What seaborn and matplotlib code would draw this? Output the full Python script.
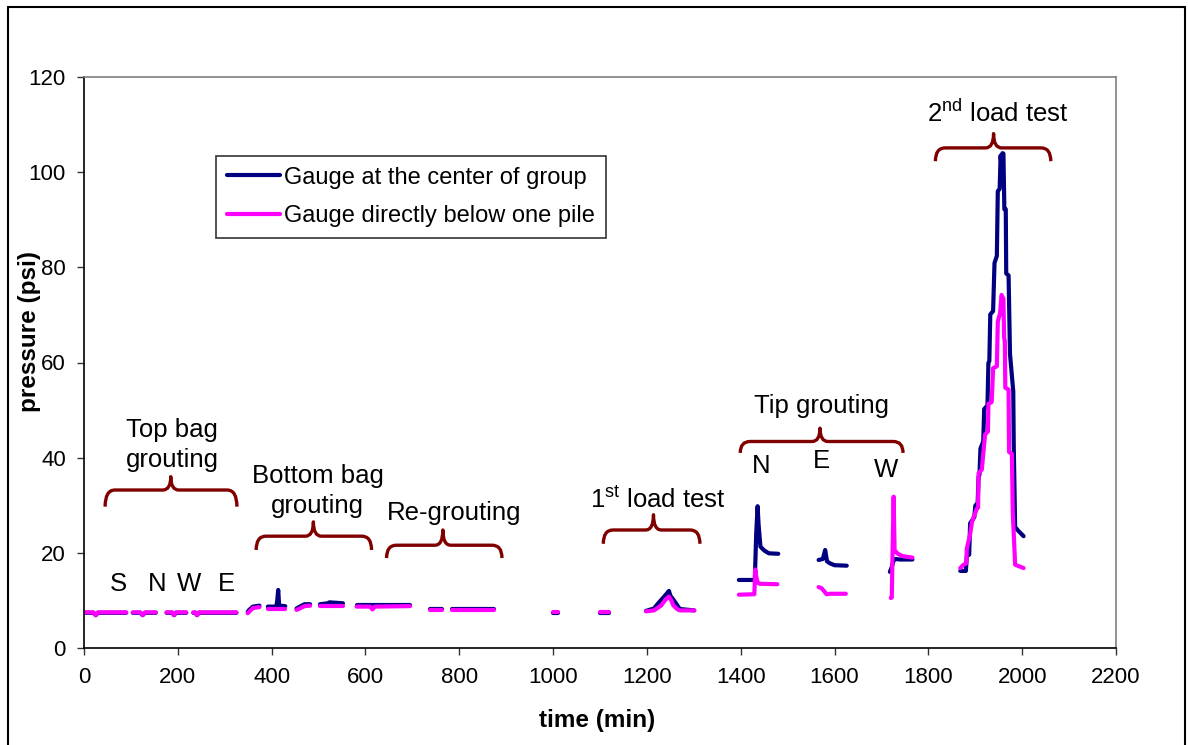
import numpy as np
import pandas as pd
import matplotlib
matplotlib.use("Agg")
import matplotlib.pyplot as plt
import seaborn as sns
from matplotlib.path import Path
from matplotlib.patches import PathPatch
from matplotlib.lines import Line2D

nan = np.nan

# ---------------- data ----------------
# Gauge at the center of group (navy); NaN separates recording gaps
center_time = [0, 20, 25, 30, 90, nan,
               104, 120, 125, 130, 153, nan,
               176, 188, 192, 196, 218, nan,
               233, 237, 241, 245, 325, nan,
               349, 352, 360, 374, nan,
               392, 410, 412, 414, 416, 429, nan,
               453, 462, 470, 482, nan,
               503, 520, 523, 552, nan,
               581, 695, nan,
               738, 763, nan,
               784, 873, nan,
               1000, 1010, nan,
               1101, 1120, nan,
               1198, 1215, 1225, 1235, 1242, 1247, 1250, 1259, 1270, 1301, nan,
               1396, 1430, 1433, 1436, 1438, 1442, 1450, 1460, 1480, nan,
               1566, 1575, 1580, 1584, 1590, 1600, 1626, nan,
               1718, 1722, 1726, 1730, 1740, 1766, nan,
               1868, 1880, 1882, 1887, 1889, 1898, 1900, 1905, 1907, 1909, 1911, 1917,
               1919, 1926, 1928, 1930, 1932, 1938, 1941, 1946, 1948, 1952, 1954, 1956,
               1958, 1960, 1962, 1965, 1966, 1971, 1974, 1981, 1982, 1985, 1992, 2003]
center_psi = [7.4, 7.4, 6.9, 7.4, 7.4, nan,
              7.4, 7.4, 6.9, 7.4, 7.4, nan,
              7.4, 7.4, 6.9, 7.4, 7.4, nan,
              7.4, 7.4, 6.9, 7.4, 7.4, nan,
              7.6, 8.0, 8.7, 8.9, nan,
              8.7, 8.7, 10.0, 12.2, 8.9, 8.8, nan,
              8.3, 8.8, 9.2, 9.2, nan,
              9.2, 9.4, 9.6, 9.4, nan,
              9.1, 9.1, nan,
              8.3, 8.3, nan,
              8.3, 8.3, nan,
              7.4, 7.4, nan,
              7.4, 7.4, nan,
              7.8, 8.3, 9.5, 10.6, 11.4, 12.0, 11.0, 9.8, 8.2, 7.9, nan,
              14.3, 14.3, 24.0, 29.8, 26.0, 21.3, 20.5, 19.9, 19.8, nan,
              18.5, 18.7, 20.6, 18.2, 17.8, 17.4, 17.3, nan,
              16.0, 17.0, 18.5, 18.7, 18.6, 18.6, nan,
              16.2, 16.2, 19.4, 19.6, 26.2, 27.5, 29.9, 30.5, 35.9, 36.5, 41.9, 43.4,
              50.2, 51.0, 59.9, 60.3, 70.1, 70.8, 80.9, 82.4, 96.0, 96.5, 103.5, 101.0,
              104.0, 103.9, 92.2, 92.2, 78.7, 78.3, 61.8, 53.9, 42.7, 25.4, 24.6, 23.5]

# Gauge directly below one pile (magenta)
below_time = [0, 20, 25, 30, 90, nan,
              104, 120, 125, 130, 153, nan,
              176, 188, 192, 196, 218, nan,
              233, 237, 241, 245, 325, nan,
              349, 352, 360, 374, nan,
              392, 429, nan,
              453, 460, 470, 482, nan,
              503, 552, nan,
              581, 610, 615, 620, 695, nan,
              738, 763, nan,
              784, 873, nan,
              1000, 1010, nan,
              1101, 1120, nan,
              1198, 1215, 1230, 1240, 1247, 1252, 1256, 1264, 1270, 1301, nan,
              1396, 1429, 1431, 1433, 1436, 1440, 1478, nan,
              1566, 1572, 1579, 1583, 1590, 1624, nan,
              1720, 1722, 1724, 1726, 1728, 1735, 1745, 1766, nan,
              1868, 1875, 1881, 1882, 1889, 1893, 1903, 1906, 1907, 1914, 1917, 1921,
              1927, 1928, 1935, 1938, 1946, 1948, 1953, 1956, 1960, 1961.5, 1963, 1964,
              1971, 1972, 1978, 1980, 1985, 2003]
below_psi = [7.5, 7.5, 6.9, 7.5, 7.5, nan,
             7.5, 7.5, 6.9, 7.5, 7.5, nan,
             7.5, 7.5, 6.9, 7.5, 7.5, nan,
             7.5, 7.5, 6.9, 7.5, 7.5, nan,
             7.3, 7.6, 8.4, 8.6, nan,
             8.3, 8.3, nan,
             8.0, 8.3, 8.8, 8.9, nan,
             8.8, 8.8, nan,
             8.7, 8.7, 8.1, 8.7, 8.8, nan,
             8.0, 8.0, nan,
             8.0, 8.0, nan,
             7.5, 7.5, nan,
             7.5, 7.5, nan,
             7.7, 7.9, 8.9, 10.2, 10.8, 10.0, 9.0, 8.2, 7.9, 7.9, nan,
             11.2, 11.3, 16.5, 15.0, 13.8, 13.5, 13.4, nan,
             12.8, 12.6, 11.8, 11.3, 11.4, 11.4, nan,
             10.5, 10.6, 22.0, 31.8, 20.5, 19.8, 19.3, 19.0, nan,
             16.8, 17.5, 17.8, 20.9, 23.9, 26.5, 29.2, 29.5, 36.7, 37.5, 40.8, 44.9,
             45.5, 51.3, 51.7, 58.8, 59.2, 68.6, 70.4, 74.2, 73.4, 65.2, 64.5, 54.7,
             54.3, 41.2, 40.8, 28.4, 17.5, 16.8]

series_names = ["Gauge at the center of group", "Gauge directly below one pile"]
series_colors = ["#000080", "#FF00FF"]

x_ticks = list(range(0, 2201, 200))
y_ticks = list(range(0, 121, 20))

# annotation texts: (text, time, pressure)
phase_labels = [("Top bag", 188, 44.4), ("grouting", 188, 38.0),
                ("Bottom bag", 499, 34.6), ("grouting", 497, 28.3),
                ("Re-grouting", 789, 26.9),
                (r"1$^{\mathrm{st}}$ load test", 1224, 29.5),
                ("Tip grouting", 1573, 49.3),
                (r"2$^{\mathrm{nd}}$ load test", 1949, 110.5)]
pile_labels = [("S", 73, 12.0), ("N", 155, 12.0), ("W", 224, 12.0), ("E", 303, 12.0),
               ("N", 1443, 36.7), ("E", 1571, 37.8), ("W", 1709, 35.9)]
# braces: (t_left, t_center, t_right, y_end, y_mid, y_tip)
braces = [(45, 185, 326, 29.7, 33.2, 36.0),
          (367, 489, 613, 20.6, 23.5, 26.5),
          (645, 765, 891, 18.9, 21.6, 24.8),
          (1107, 1214, 1313, 21.9, 24.8, 28.0),
          (1399, 1569, 1746, 41.0, 43.4, 46.2),
          (1815, 1939, 2061, 102.3, 105.1, 108.1)]


def to_frame(t, p, name):
    t = np.asarray(t, float)
    p = np.asarray(p, float)
    seg = np.cumsum(np.isnan(p))
    df = pd.DataFrame({"time": t, "pressure": p, "gauge": name,
                       "seg": [f"{name}-{s}" for s in seg]})
    return df.dropna()


df = pd.concat([to_frame(center_time, center_psi, series_names[0]),
                to_frame(below_time, below_psi, series_names[1])],
               ignore_index=True)

sns.set_style("ticks")
plt.rcParams["font.family"] = ["Liberation Sans", "DejaVu Sans"]
plt.rcParams["mathtext.fontset"] = "custom"
plt.rcParams["mathtext.rm"] = "Liberation Sans"
plt.rcParams["mathtext.it"] = "Liberation Sans:italic"
plt.rcParams["mathtext.bf"] = "Liberation Sans:bold"
for k in ["text.color", "axes.labelcolor", "xtick.color", "ytick.color",
          "xtick.labelcolor", "ytick.labelcolor"]:
    plt.rcParams[k] = "black"

W, H = 1188, 745
fig = plt.figure(figsize=(W / 100, H / 100), dpi=100)
ax = fig.add_axes([84 / W, 1 - 648 / H, (1116 - 84) / W, (648 - 77) / H])

sns.lineplot(data=df, x="time", y="pressure", hue="gauge", units="seg",
             estimator=None, sort=False, hue_order=series_names,
             palette=dict(zip(series_names, series_colors)), linewidth=3,
             solid_capstyle="round", solid_joinstyle="round",
             legend=False, ax=ax)

ax.set_xlim(0, 2200)
ax.set_ylim(0, 120)
ax.set_xticks(x_ticks)
ax.set_yticks(y_ticks)
ax.set_xlabel("")
ax.set_ylabel("")
ax.tick_params(axis="both", direction="out", length=5, width=1, labelsize=16,
               color="#333333", labelcolor="black")
ax.tick_params(axis="x", pad=9)
ax.tick_params(axis="y", pad=8)
for s in ["left", "bottom"]:
    ax.spines[s].set_color("black")
    ax.spines[s].set_linewidth(1.2)
for s in ["top", "right"]:
    ax.spines[s].set_color("#808080")
    ax.spines[s].set_linewidth(1.2)

fig.text(597 / W, 1 - 720 / H, "time (min)", ha="center", va="center",
         fontsize=17.5, fontweight="bold", color="black")
fig.text(30 / W, 1 - 332 / H, "pressure (psi)", ha="center", va="center",
         rotation=90, fontsize=17.5, fontweight="bold", color="black")

brace_color = "#800000"
for (t0, tc, t1, ye, ym, yt) in braces:
    re = 21  # corner width (min)
    rc = 17
    verts = [(t0, ye), (t0, ym), (t0 + re, ym),
             (tc - rc, ym), (tc, ym), (tc, yt),
             (tc, ym), (tc + rc, ym),
             (t1 - re, ym), (t1, ym), (t1, ye)]
    codes = [Path.MOVETO, Path.CURVE3, Path.CURVE3,
             Path.LINETO, Path.CURVE3, Path.CURVE3,
             Path.CURVE3, Path.CURVE3,
             Path.LINETO, Path.CURVE3, Path.CURVE3]
    ax.add_patch(PathPatch(Path(verts, codes), facecolor="none",
                           edgecolor=brace_color, lw=2.4, capstyle="butt",
                           joinstyle="round", clip_on=False))

for txt, t, p in phase_labels:
    ax.text(t, p, txt, ha="center", va="baseline", fontsize=18.5, color="black")
for txt, t, p in pile_labels:
    ax.text(t, p, txt, ha="center", va="baseline", fontsize=18.5, color="black")

handles = [Line2D([], [], color=c, lw=3) for c in series_colors]
leg = ax.legend(handles, series_names, loc="upper left",
                bbox_to_anchor=((216 - 84) / (1116 - 84), (648 - 156) / (648 - 77)),
                borderaxespad=0, frameon=True, fancybox=False, edgecolor="black",
                fontsize=17.0, handlelength=2.25, handletextpad=0.2,
                labelspacing=0.7, borderpad=0.45, labelcolor="black")
leg.get_frame().set_linewidth(1.2)

# outer chart border
for xs, ys in [([8 / W, 8 / W], [0, 1 - 7 / H]),
               ([8 / W, 1185 / W], [1 - 7 / H, 1 - 7 / H]),
               ([1185 / W, 1185 / W], [0, 1 - 7 / H])]:
    fig.add_artist(Line2D(xs, ys, transform=fig.transFigure, color="black", lw=1.5))

fig.savefig("out.png", dpi=100)
